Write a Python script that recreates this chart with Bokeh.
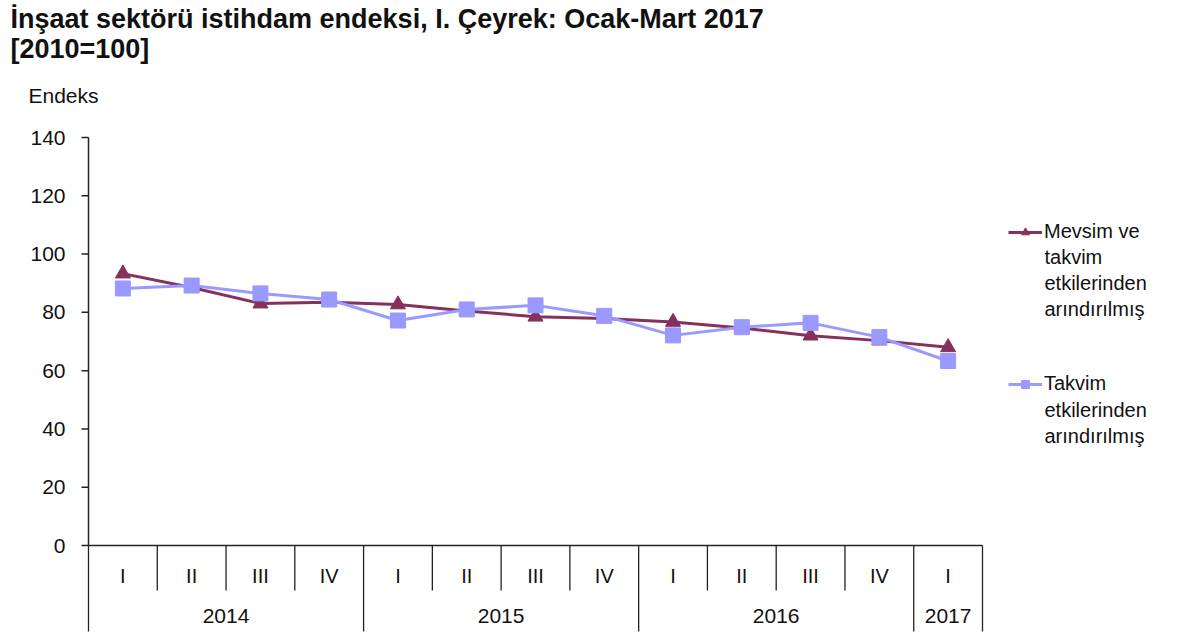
from bokeh.plotting import figure
from bokeh.models import Range1d, Legend, LegendItem, Label, Grid
from bokeh.core.properties import value
from bokeh.embed import file_html
from bokeh.resources import INLINE

# ---------------- data ----------------
quarters = ["I", "II", "III", "IV", "I", "II", "III", "IV", "I", "II", "III", "IV", "I"]
period_years = ["2014"] * 4 + ["2015"] * 4 + ["2016"] * 4 + ["2017"]
mevsim = [93.3, 88.5, 83.0, 83.5, 82.7, 80.5, 78.5, 77.9, 76.7, 74.6, 72.0, 70.3, 68.0]
takvim = [88.2, 89.2, 86.5, 84.4, 77.2, 81.0, 82.4, 78.8, 72.1, 74.9, 76.4, 71.5, 63.3]
y_ticks = [0, 20, 40, 60, 80, 100, 120, 140]
y_tick_labels = ["0", "20", "40", "60", "80", "100", "120", "140"]
title_lines = ["İnşaat sektörü istihdam endeksi, I. Çeyrek: Ocak-Mart 2017", "[2010=100]"]
y_title = "Endeks"
legend_lines_1 = ["Mevsim ve", "takvim", "etkilerinden", "arındırılmış"]
legend_lines_2 = ["Takvim", "etkilerinden", "arındırılmış"]

# ---------------- layout (pixels of the 1200x644 canvas) ----------------
W, H = 1200, 644
AX_LEFT, AX_RIGHT = 88, 982      # plot-area horizontal extent
AX_TOP, AX_ZERO = 137, 545       # pixel rows of y=140 and y=0
n = len(quarters)
ux = (AX_RIGHT - AX_LEFT) / n                       # px per category
ppu = (AX_ZERO - AX_TOP) / (y_ticks[-1] - y_ticks[0])  # px per y unit
x_lo = -AX_LEFT / ux
x_hi = n + (W - AX_RIGHT) / ux
y_hi = AX_ZERO / ppu
y_lo = y_hi - H / ppu


def dx(px):   # pixel offset -> data x offset
    return px / ux


def dy(px):   # pixel offset -> data y offset
    return px / ppu


FONT = "Liberation Sans"
C_MEV = "#86305C"
C_TAK = "#9999FF"
C_AX = "#222222"
C_TXT = "#111111"

xs = [i + 0.5 for i in range(n)]

p = figure(width=W, height=H, x_range=Range1d(x_lo, x_hi), y_range=Range1d(y_lo, y_hi),
           x_axis_location=None, y_axis_location=None, toolbar_location=None,
           output_backend="svg", title=None,
           min_border=0, min_border_left=0, min_border_right=0, min_border_top=0,
           min_border_bottom=0)
p.outline_line_color = None
p.background_fill_color = "white"
p.border_fill_color = "white"
for g in p.select(type=Grid):
    g.visible = False
    g.grid_line_color = None

# y axis (line, ticks, labels)
p.segment(x0=[0], y0=[y_ticks[0]], x1=[0], y1=[y_ticks[-1]], line_color=C_AX, line_width=1.5)
p.segment(x0=[-dx(7)] * len(y_ticks), y0=y_ticks, x1=[0] * len(y_ticks), y1=y_ticks,
          line_color=C_AX, line_width=1.5)
p.text(x=[-dx(23)] * len(y_ticks), y=y_ticks, text=y_tick_labels, text_align="right",
       text_baseline="middle", text_font=value(FONT), text_font_size="21px", text_color=C_TXT)

# x axis line
p.segment(x0=[0], y0=[0], x1=[n], y1=[0], line_color=C_AX, line_width=1.5)

# category separators
bx, by = [], []
for i in range(n + 1):
    long_sep = i == 0 or i == n or period_years[i] != period_years[i - 1]
    bx.append(i)
    by.append(-dy(86) if long_sep else -dy(45))
p.segment(x0=bx, y0=[0] * len(bx), x1=bx, y1=by, line_color=C_AX, line_width=1.3)

# quarter labels
p.text(x=xs, y=[-dy(30)] * n, text=quarters, text_align="center", text_baseline="middle",
       text_font=value(FONT), text_font_size="20px", text_color=C_TXT)

# year labels
uniq = []
for y in period_years:
    if y not in uniq:
        uniq.append(y)
yc = []
for y in uniq:
    idx = [i for i, v in enumerate(period_years) if v == y]
    yc.append((idx[0] + idx[-1] + 1) / 2)
p.text(x=yc, y=[-dy(70)] * len(uniq), text=uniq, text_align="center", text_baseline="middle",
       text_font=value(FONT), text_font_size="21px", text_color=C_TXT)

# series
l1 = p.line(xs, mevsim, line_color=C_MEV, line_width=3)
s1 = p.scatter(xs, mevsim, marker="triangle", size=15, fill_color=C_MEV, line_color=C_MEV)
l2 = p.line(xs, takvim, line_color=C_TAK, line_width=3)
s2 = p.scatter(xs, takvim, marker="square", size=15, fill_color=C_TAK, line_color=C_TAK)

# legend (first line via Legend, remaining lines as labels)
LEG_X, LEG_Y1, LEG_Y2, LINE_STEP = 1008, 230, 383, 26
leg = Legend(items=[LegendItem(label=legend_lines_1[0], renderers=[l1, s1]),
                    LegendItem(label=legend_lines_2[0], renderers=[l2, s2])],
             location=(LEG_X, H - (LEG_Y2 + 12)), padding=0, margin=0,
             spacing=(LEG_Y2 - LEG_Y1) - 24,
             glyph_width=34, glyph_height=20, label_height=20, label_standoff=2,
             border_line_color=None, background_fill_alpha=0,
             label_text_font=FONT, label_text_font_size="20px", label_text_color=C_TXT)
p.add_layout(leg, "center")

for lines, y_start in ((legend_lines_1, LEG_Y1), (legend_lines_2, LEG_Y2)):
    for k, t in enumerate(lines[1:], start=1):
        p.add_layout(Label(x=LEG_X + 36, y=H - (y_start + LINE_STEP * k), x_units="screen",
                           y_units="screen", text=t, text_font=FONT, text_font_size="20px",
                           text_color=C_TXT, text_baseline="middle", text_align="left"))

# titles
p.add_layout(Label(x=10, y=H - 18, x_units="screen", y_units="screen", text=title_lines[0],
                   text_font=FONT, text_font_size="27px", text_font_style="bold",
                   text_color=C_TXT, text_baseline="middle"))
p.add_layout(Label(x=10, y=H - 48, x_units="screen", y_units="screen", text=title_lines[1],
                   text_font=FONT, text_font_size="27px", text_font_style="bold",
                   text_color=C_TXT, text_baseline="middle"))
p.add_layout(Label(x=28, y=H - 95, x_units="screen", y_units="screen", text=y_title,
                   text_font=FONT, text_font_size="21px", text_color=C_TXT,
                   text_baseline="middle"))

open("out.html", "w").write(file_html(p, INLINE))
